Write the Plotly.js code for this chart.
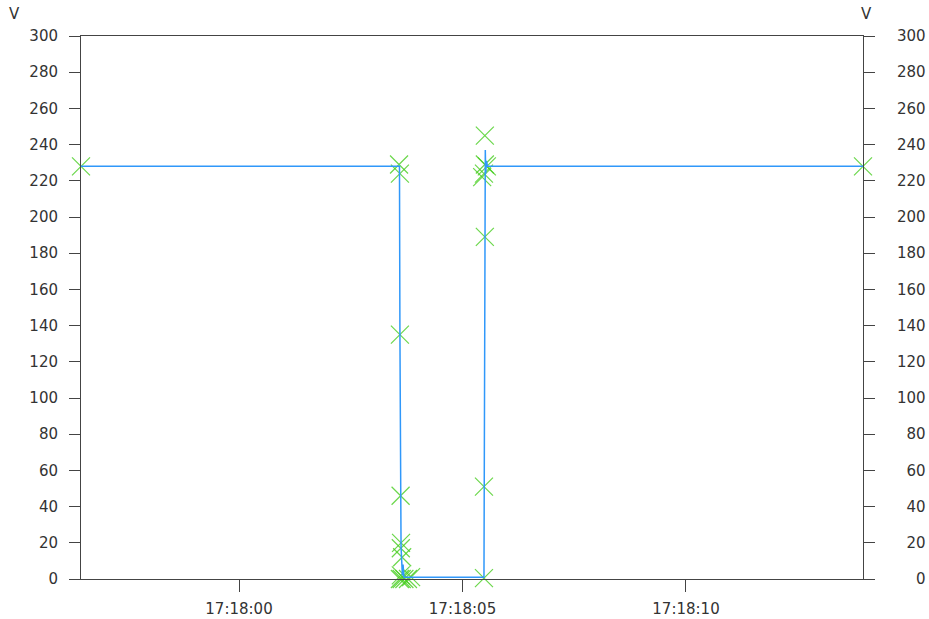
<!DOCTYPE html>
<html>
<head>
<meta charset="utf-8">
<script src="https://cdn.plot.ly/plotly-3.0.1.min.js"></script>
<style>html,body{margin:0;padding:0;background:#fff;}#chart{width:929px;height:619px;}</style>
</head>
<body>
<div id="chart"></div>
<script>
var day = '2020-01-01 ';
var lineTimes = ['17:17:56.465','17:18:03.590','17:18:03.600','17:18:03.610','17:18:03.625','17:18:03.640','17:18:03.655','17:18:03.670','17:18:03.690','17:18:05.480','17:18:05.490','17:18:05.500','17:18:05.510','17:18:05.520','17:18:05.535','17:18:05.560','17:18:13.960'];
var lineVolts = [228,228,136,46,18,10,2,8,1,1,52,190,237,224,231,228,228];
var markTimes = ['17:17:56.465','17:18:03.580','17:18:03.600','17:18:03.600','17:18:03.615','17:18:03.625','17:18:03.620','17:18:03.650','17:18:03.620','17:18:03.600','17:18:03.640','17:18:03.700','17:18:03.780','17:18:03.850','17:18:05.480','17:18:05.480','17:18:05.500','17:18:05.440','17:18:05.480','17:18:05.500','17:18:05.545','17:18:05.500','17:18:13.960'];
var markVolts = [228,229,224,135,46,20,17,12,2,0,0,0,0,1,0.5,51,189,222,224,229,228,245,228];
var xTickVals = ['17:18:00','17:18:05','17:18:10'];
var yTickVals = [0,20,40,60,80,100,120,140,160,180,200,220,240,260,280,300];
var yUnit = 'V';
var xRange = ['17:17:56.465','17:18:13.960'];

function full(a){return a.map(function(t){return day+t;});}
var FS = '\u2007';
function pad(v){var s=String(v);while(s.length<3)s=FS+s;return s;}

var font = {family:'DejaVu Sans, sans-serif', size:15, color:'#333'};
var axisCommon = {
  range:[0,300], tickvals:yTickVals, ticks:'outside', ticklen:11, tickcolor:'#444', tickwidth:1,
  showline:true, linecolor:'#444', linewidth:1, showgrid:false, zeroline:false, tickfont:font, fixedrange:true
};

var traces = [
  {x:full(markTimes), y:markVolts, type:'scatter', mode:'markers', cliponaxis:false,
   marker:{symbol:'x-thin-open', size:18, line:{width:1.2, color:'rgba(70,205,30,0.8)'}, color:'rgba(70,205,30,0.8)'},
   hoverinfo:'skip', showlegend:false},
  {x:full(lineTimes), y:lineVolts, type:'scatter', mode:'lines', cliponaxis:true,
   line:{color:'#3098fa', width:1.5}, showlegend:false},
  {x:full(lineTimes), y:lineVolts, yaxis:'y2', type:'scatter', mode:'lines', visible:true,
   line:{color:'rgba(0,0,0,0)', width:0}, hoverinfo:'skip', showlegend:false}
];

var layout = {
  width:929, height:619,
  margin:{l:81, r:66, t:36, b:40, pad:0},
  paper_bgcolor:'#fff', plot_bgcolor:'#fff',
  showlegend:false,
  xaxis:{type:'date', range:full(xRange), tickvals:full(xTickVals), ticktext:xTickVals,
    ticks:'outside', ticklen:12, tickcolor:'#444', showline:true, linecolor:'#444', mirror:true,
    showgrid:false, zeroline:false, tickfont:font, ticklabelstandoff:4},
  yaxis: Object.assign({}, axisCommon, {side:'left', ticklabelstandoff:8}),
  yaxis2: Object.assign({}, axisCommon, {side:'right', overlaying:'y', ticktext:yTickVals.map(pad), ticklabelstandoff:19}),
  annotations:[
    {text:yUnit, xref:'paper', yref:'paper', x:-0.085, y:1.0, yshift:22, showarrow:false, font:font, xanchor:'center', yanchor:'middle'},
    {text:yUnit, xref:'paper', yref:'paper', x:1.005, y:1.0, yshift:22, showarrow:false, font:font, xanchor:'center', yanchor:'middle'}
  ]
};

Plotly.newPlot('chart', traces, layout, {displayModeBar:false, staticPlot:true});
</script>
</body>
</html>
